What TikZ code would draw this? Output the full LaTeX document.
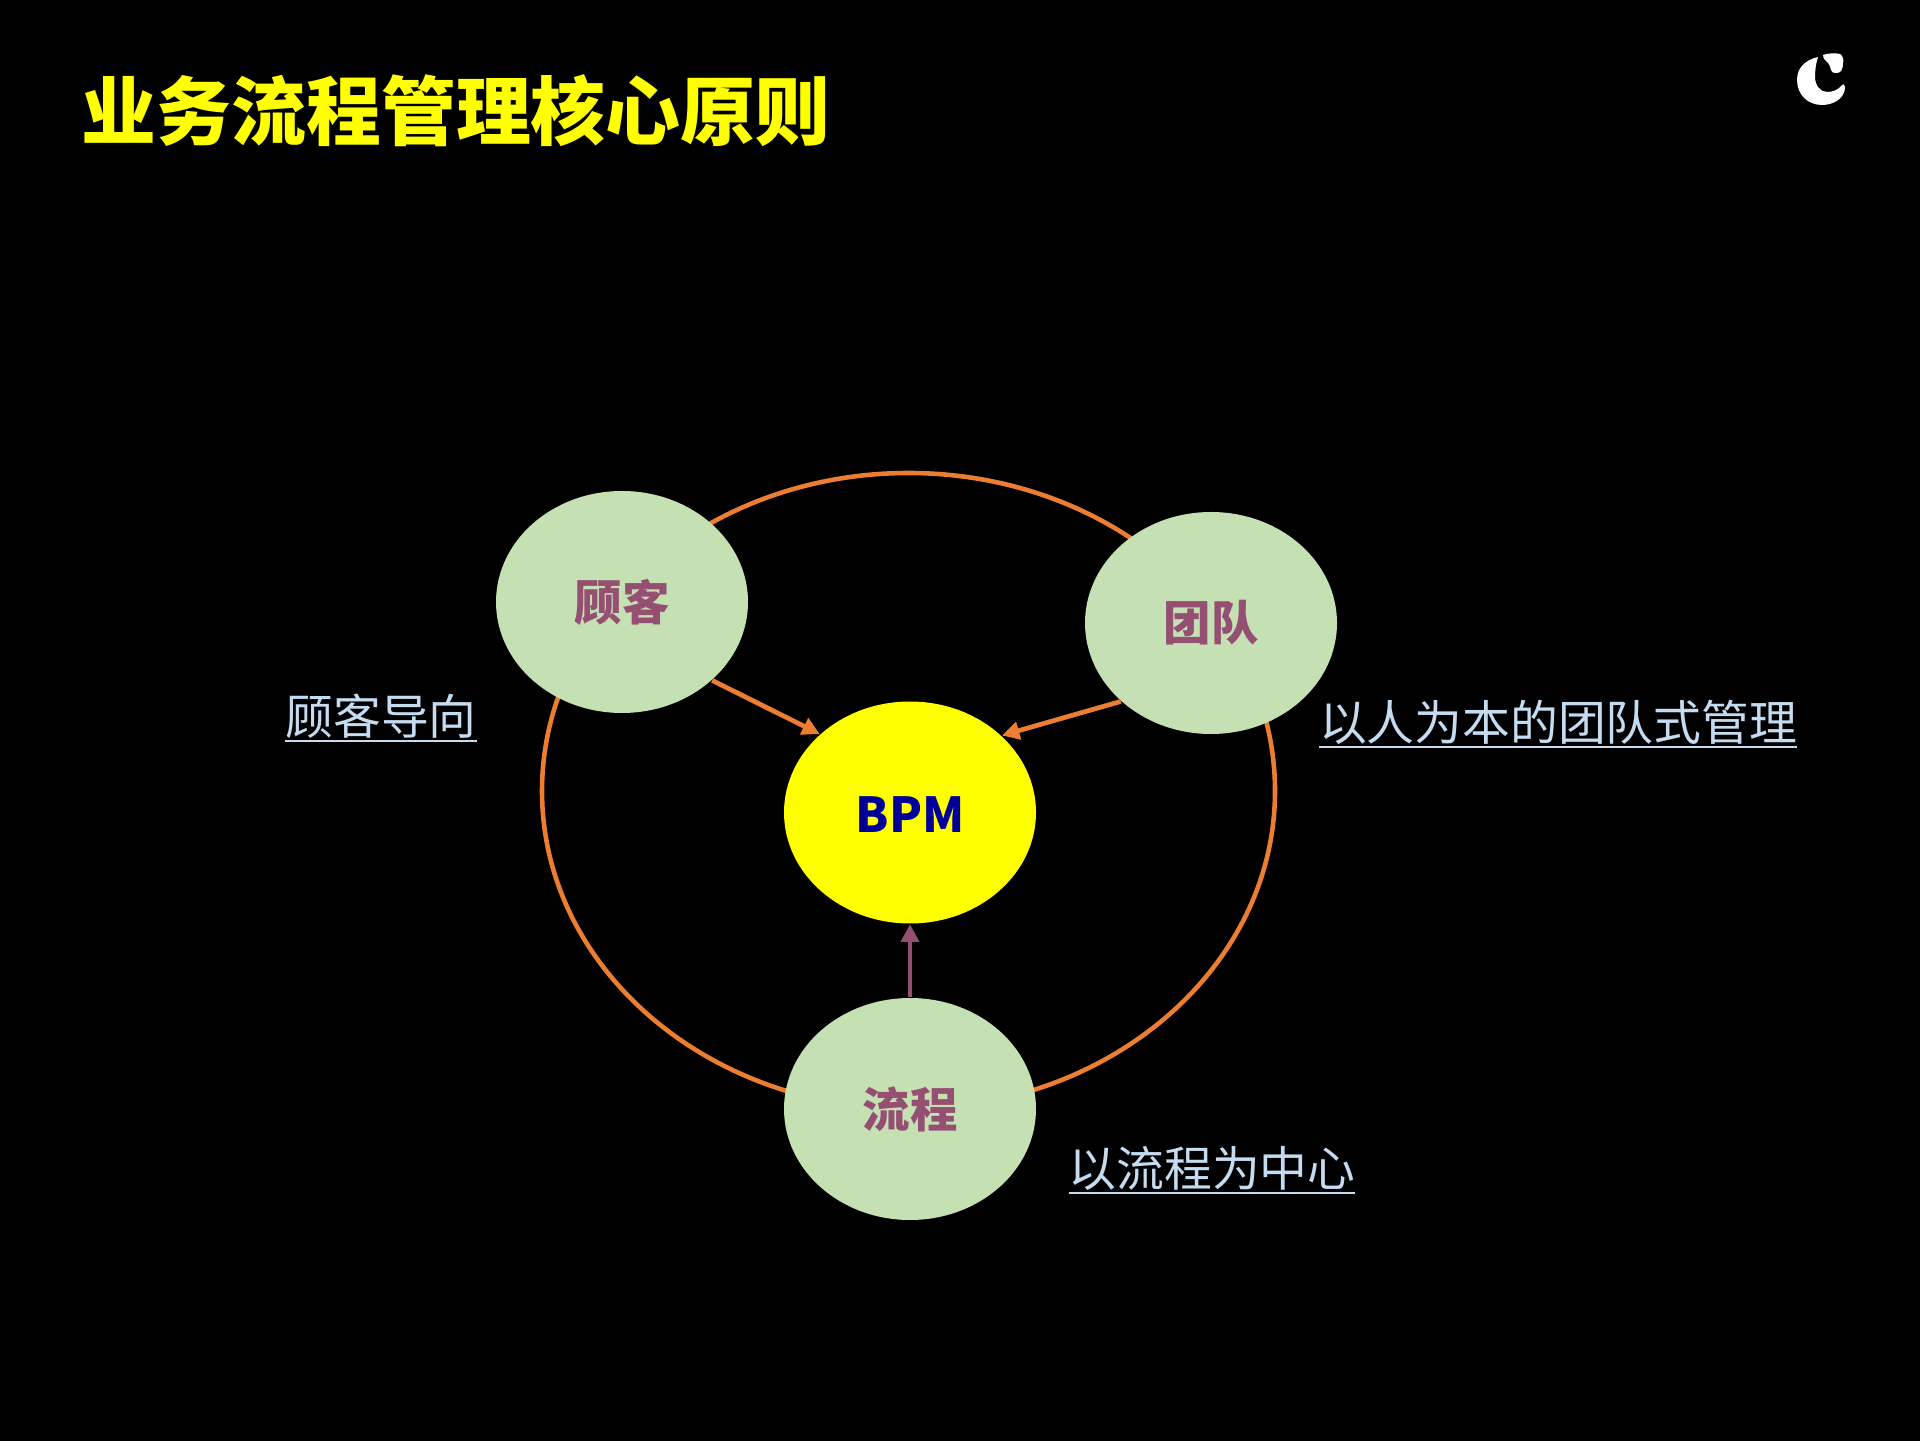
\documentclass[tikz,border=0pt]{standalone}
\usepackage{fontspec}
\setmainfont{Noto Sans CJK SC}
\usetikzlibrary{shapes.geometric,arrows.meta}
\definecolor{bpmyellow}{RGB}{255,255,0}
\definecolor{bpmorange}{RGB}{237,125,49}
\definecolor{bpmgreen}{RGB}{197,224,179}
\definecolor{bpmpurple}{RGB}{149,79,114}
\definecolor{bpmlabel}{RGB}{197,219,240}
\definecolor{bpmblue}{RGB}{0,0,153}
\newcommand{\labelline}[1]{\setbox0\hbox{#1}\rlap{\rule[-0.17em]{\wd0}{0.6pt}}\box0}
\tikzset{
  pillar/.style={ellipse,fill=bpmgreen,minimum width=2.52cm,minimum height=2.22cm,inner sep=0pt,text=bpmpurple,font=\fontsize{13.5pt}{16pt}\selectfont\bfseries},
  feed/.style={line width=1.35pt,-{Triangle[length=5pt,width=5pt]}},
  principle/.style={text=bpmlabel,inner sep=0pt,font=\fontsize{13.6pt}{16pt}\selectfont}
}

\begin{document}
\begin{tikzpicture}
\useasboundingbox (0,0) rectangle (19.2,14.4);
\fill[black] (-0.1,-0.1) rectangle (19.3,14.5);
% 标题
\node[anchor=west,inner sep=0pt,text=bpmyellow,font=\fontsize{21.3pt}{26pt}\selectfont\bfseries] (title) at (0.81,13.29) {业务流程管理核心原则};
% 外环
\node[draw=bpmorange,ellipse,line width=1.3pt,minimum width=7.33cm,minimum height=6.36cm,inner sep=0pt] (ring) at (9.085,6.49) {};
% 四个椭圆
\node[pillar] (customer) at (6.22,8.38) {顾客};
\node[pillar] (team) at (12.11,8.17) {团队};
\node[pillar] (process) at (9.10,3.31) {流程};
\node[pillar,fill=bpmyellow,text=bpmblue,text height=11.5pt,text depth=0pt,font=\fontsize{13.7pt}{16pt}\selectfont\bfseries] (bpm) at (9.10,6.275) {BPM};

\draw[feed,bpmorange] (customer.-41) -- (bpm.139);
\draw[feed,bpmorange] (team.221) -- (bpm.40);
\draw[feed,bpmpurple] (process.north) -- (bpm.south);

% 说明文字
\node[principle] (customerlabel) at (3.81,7.22) {\labelline{顾客导向}};
\node[principle] (teamlabel) at (15.58,7.16) {\labelline{以人为本的团队式管理}};
\node[principle] (processlabel) at (12.12,2.70) {\labelline{以流程为中心}};

% 角标
\fill[white] (18.18,13.83) .. controls (18.05,13.80) and (17.97,13.72) .. (17.97,13.6)
  .. controls (17.97,13.45) and (18.08,13.35) .. (18.22,13.35)
  .. controls (18.34,13.35) and (18.45,13.42) .. (18.45,13.53)
  .. controls (18.44,13.56) and (18.43,13.56) .. (18.42,13.55)
  .. controls (18.38,13.50) and (18.33,13.48) .. (18.27,13.48)
  .. controls (18.20,13.48) and (18.15,13.55) .. (18.15,13.63)
  .. controls (18.15,13.70) and (18.16,13.77) .. (18.18,13.83) -- cycle;
\fill[white] (18.23,13.85) .. controls (18.28,13.87) and (18.36,13.87) .. (18.40,13.86)
  .. controls (18.43,13.84) and (18.44,13.80) .. (18.43,13.77)
  .. controls (18.43,13.71) and (18.41,13.67) .. (18.37,13.67)
  .. controls (18.33,13.67) and (18.31,13.68) .. (18.31,13.70)
  .. controls (18.30,13.74) and (18.29,13.76) .. (18.28,13.77)
  .. controls (18.26,13.79) and (18.23,13.81) .. (18.23,13.85) -- cycle;
\end{tikzpicture}
\end{document}
